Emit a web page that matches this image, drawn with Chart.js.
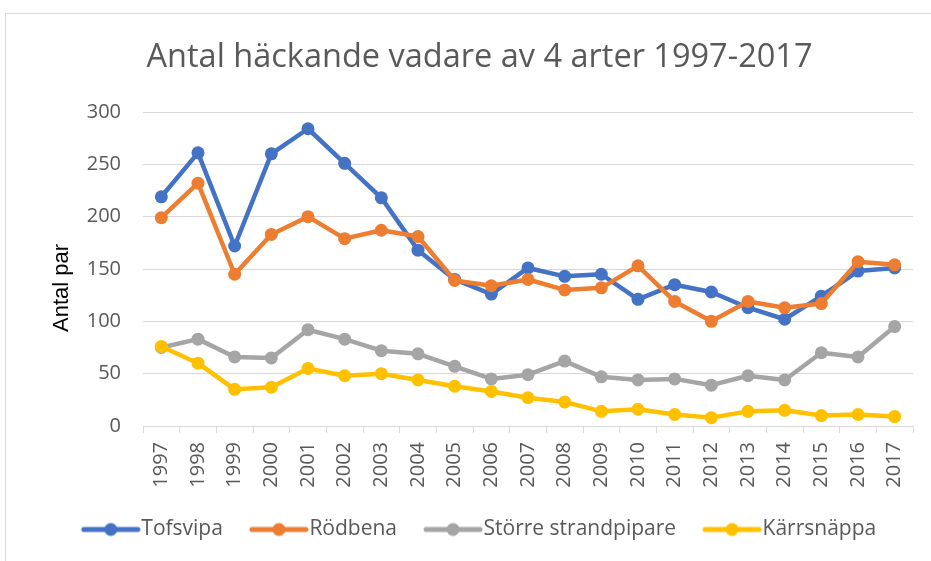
<!DOCTYPE html>
<html>
<head>
<meta charset="utf-8">
<script src="https://cdn.jsdelivr.net/npm/chart.js@4.4.1/dist/chart.umd.min.js"></script>
<style>
  html, body { margin: 0; padding: 0; background: #ffffff; }
  #frame { position: absolute; left: 5px; top: 13px; width: 960px; height: 600px; border: 1px solid #d9d9d9; box-sizing: border-box; }
  #c { position: absolute; left: 0; top: 0; }
</style>
</head>
<body>
<div id="frame"></div>
<canvas id="c" width="931" height="561"></canvas>
<script>
const titleText = "Antal häckande vadare av 4 arter 1997-2017";
const yAxisTitle = "Antal par";
const years = ["1997","1998","1999","2000","2001","2002","2003","2004","2005","2006","2007","2008","2009","2010","2011","2012","2013","2014","2015","2016","2017"];
const seriesNames = ["Tofsvipa", "Rödbena", "Större strandpipare", "Kärrsnäppa"];
const tofsvipa = [219, 261, 172, 260, 284, 251, 218, 168, 140, 126, 151, 143, 145, 121, 135, 128, 113, 102, 124, 148, 151];
const rodbena = [199, 232, 145, 183, 200, 179, 187, 181, 139, 134, 140, 130, 132, 153, 119, 100, 119, 113, 117, 157, 154];
const storreStrandpipare = [75, 83, 66, 65, 92, 83, 72, 69, 57, 45, 49, 62, 47, 44, 45, 39, 48, 44, 70, 66, 95];
const karrsnappa = [76, 60, 35, 37, 55, 48, 50, 44, 38, 33, 27, 23, 14, 16, 11, 8, 14, 15, 10, 11, 9];
const yTicks = [0, 50, 100, 150, 200, 250, 300];

const colors = ["#4472C4", "#ED7D31", "#A5A5A5", "#FFC000"];
const allSeries = [tofsvipa, rodbena, storreStrandpipare, karrsnappa];

function legendMarker(color) {
  const cv = document.createElement('canvas');
  cv.width = 70; cv.height = 16;
  const g = cv.getContext('2d');
  g.strokeStyle = color;
  g.lineWidth = 5;
  g.lineCap = 'round';
  g.beginPath();
  g.moveTo(12, 8);
  g.lineTo(66, 8);
  g.stroke();
  g.fillStyle = color;
  g.beginPath();
  g.arc(39, 8, 6.5, 0, Math.PI * 2);
  g.fill();
  return cv;
}
const markers = colors.map(legendMarker);

const datasets = seriesNames.map((name, i) => ({
  label: name,
  data: allSeries[i],
  borderColor: colors[i],
  backgroundColor: colors[i],
  borderWidth: 4.5,
  pointRadius: 6.5,
  pointBorderWidth: 0,
  pointBackgroundColor: colors[i],
  borderJoinStyle: 'round',
  borderCapStyle: 'round',
  tension: 0,
  order: 4 - i
}));

const tickFont = { family: "'Open Sans', sans-serif", size: 20 };

// y-axis title, placed where the reference has it (a bit below the middle of the plot)
const yTitlePlugin = {
  id: 'yTitle',
  afterDraw(chart) {
    const { ctx, chartArea } = chart;
    ctx.save();
    ctx.translate(62, (chartArea.top + chartArea.bottom) / 2 + 19);
    ctx.rotate(-Math.PI / 2);
    ctx.font = "22px 'Liberation Sans', Arial, sans-serif";
    ctx.fillStyle = '#000000';
    ctx.textAlign = 'center';
    ctx.textBaseline = 'middle';
    ctx.fillText(yAxisTitle, 0, 0);
    ctx.restore();
  }
};

new Chart(document.getElementById('c'), {
  type: 'line',
  data: { labels: years, datasets },
  plugins: [yTitlePlugin],
  options: {
    responsive: false,
    animation: false,
    devicePixelRatio: 1,
    layout: { padding: { left: 46, right: 18, top: 0, bottom: 11 } },
    plugins: {
      tooltip: { enabled: false },
      title: {
        display: true,
        text: titleText,
        color: '#595959',
        font: { family: "'Open Sans', sans-serif", size: 32.5, weight: 400 },
        padding: { top: 38, bottom: 35 }
      },
      legend: {
        position: 'bottom',
        labels: {
          usePointStyle: true,
          pointStyleWidth: 48,
          padding: 28,
          color: '#595959',
          font: { family: "'Open Sans', sans-serif", size: 21 },
          generateLabels: (chart) => chart.data.datasets.map((ds, i) => ({
            text: ds.label,
            fillStyle: ds.borderColor,
            strokeStyle: ds.borderColor,
            fontColor: '#595959',
            lineWidth: 0,
            pointStyle: markers[i],
            hidden: false,
            datasetIndex: i
          }))
        }
      }
    },
    scales: {
      x: {
        type: 'category',
        offset: true,
        afterFit: (s) => { s.height = 65; },
        grid: { offset: true, drawOnChartArea: false, drawTicks: true, tickLength: 7, color: '#D9D9D9', lineWidth: 1 },
        border: { display: true, color: '#D9D9D9', width: 1 },
        ticks: { minRotation: 90, maxRotation: 90, autoSkip: false, padding: 9, color: '#595959', font: tickFont }
      },
      y: {
        min: 0,
        max: 300,
        afterFit: (s) => { s.width = 97; },
        afterBuildTicks: (s) => { s.ticks = yTicks.map(v => ({ value: v })); },
        grid: { color: '#D9D9D9', lineWidth: 1, drawTicks: false },
        border: { display: false },
        ticks: { padding: 22, color: '#595959', font: tickFont },
        title: { display: false, text: yAxisTitle }
      }
    }
  }
});
</script>
</body>
</html>
